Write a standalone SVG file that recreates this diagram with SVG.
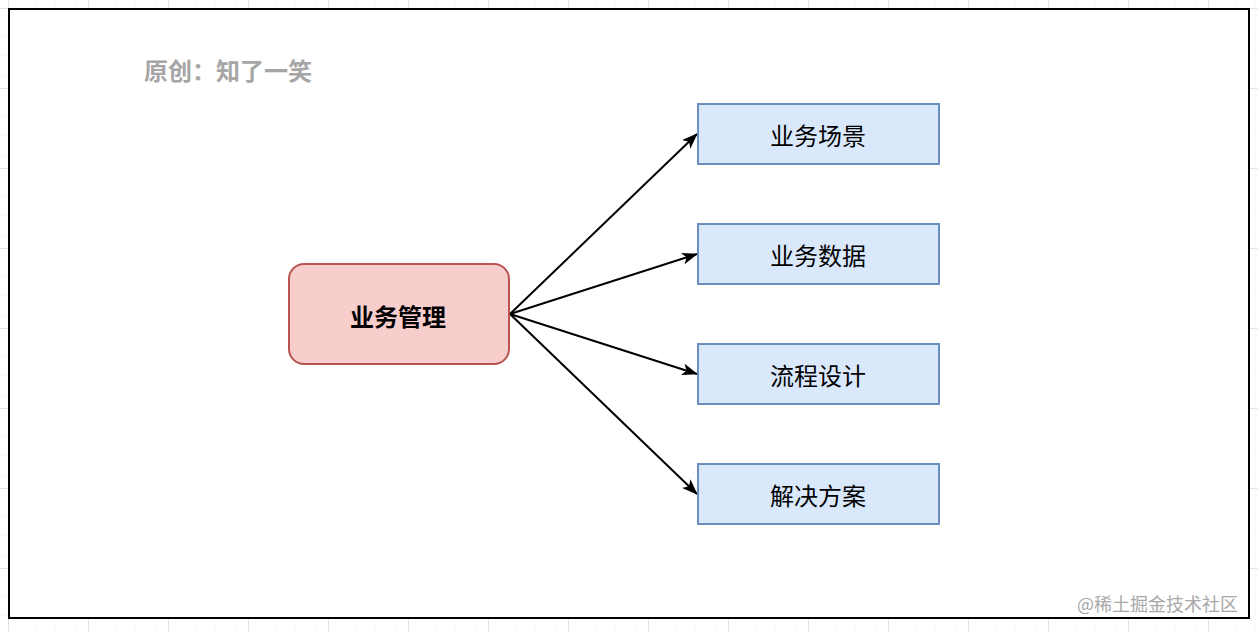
<svg xmlns="http://www.w3.org/2000/svg" width="1258" height="632" viewBox="0 0 1258 632">
  <defs>
    <pattern id="minor" x="8" y="8" width="20" height="20" patternUnits="userSpaceOnUse">
      <path d="M20 0 V20 M0 20 H20" fill="none" stroke="#f2f2f2" stroke-width="1"/>
    </pattern>
    <pattern id="major" x="8" y="8" width="80" height="80" patternUnits="userSpaceOnUse">
      <rect width="80" height="80" fill="url(#minor)"/>
      <path d="M0 0.5 H80 M0.5 0 V80" fill="none" stroke="#e3e3e3" stroke-width="1"/>
    </pattern>
    <marker id="arrow" viewBox="0 0 16 12" refX="15" refY="6" markerWidth="16" markerHeight="12" markerUnits="userSpaceOnUse" orient="auto">
      <path d="M0 0 L16 6 L0 12 L4 6 Z" fill="#000"/>
    </marker>
    <style>
      .cjk { font-family: "Noto Sans CJK SC", "Liberation Sans", sans-serif; }
      .leaf rect { fill: #dae8fc; stroke: #6c8ebf; stroke-width: 2; }
      .leaf text { font-size: 24px; fill: #000; text-anchor: middle; dominant-baseline: central; }
      .edge { fill: none; stroke: #000; stroke-width: 2; marker-end: url(#arrow); }
    </style>
  </defs>
  <rect width="1258" height="632" fill="#ffffff"/>
  <rect width="1258" height="632" fill="url(#major)"/>
  <rect id="frame" x="9" y="9" width="1240" height="609" fill="#ffffff" stroke="#000" stroke-width="2"/>

  <text id="title" x="144" y="69" class="cjk" font-size="24" font-weight="bold" fill="#a6a6a6" dominant-baseline="central">原创：知了一笑</text>

  <g id="connectors">
    <line class="edge" x1="510" y1="314" x2="697" y2="134"/>
    <line class="edge" x1="510" y1="314" x2="697" y2="254"/>
    <line class="edge" x1="510" y1="314" x2="697" y2="374"/>
    <line class="edge" x1="510" y1="314" x2="697" y2="494"/>
  </g>

  <g id="node-root">
    <rect x="289" y="264" width="220" height="100" rx="15" ry="15" fill="#f8cecc" stroke="#b85450" stroke-width="2"/>
    <text x="398" y="315" class="cjk" font-size="24" font-weight="bold" fill="#000" text-anchor="middle" dominant-baseline="central">业务管理</text>
  </g>
  <g id="node-scene" class="leaf cjk">
    <rect x="698" y="104" width="241" height="60"/>
    <text x="818" y="134">业务场景</text>
  </g>
  <g id="node-data" class="leaf cjk">
    <rect x="698" y="224" width="241" height="60"/>
    <text x="818" y="254">业务数据</text>
  </g>
  <g id="node-flow" class="leaf cjk">
    <rect x="698" y="344" width="241" height="60"/>
    <text x="818" y="374">流程设计</text>
  </g>
  <g id="node-solution" class="leaf cjk">
    <rect x="698" y="464" width="241" height="60"/>
    <text x="818" y="494">解决方案</text>
  </g>

  <text id="watermark" x="1238" y="603" class="cjk" font-size="18" fill="#a8a8a8" text-anchor="end" dominant-baseline="central">@稀土掘金技术社区</text>
</svg>
